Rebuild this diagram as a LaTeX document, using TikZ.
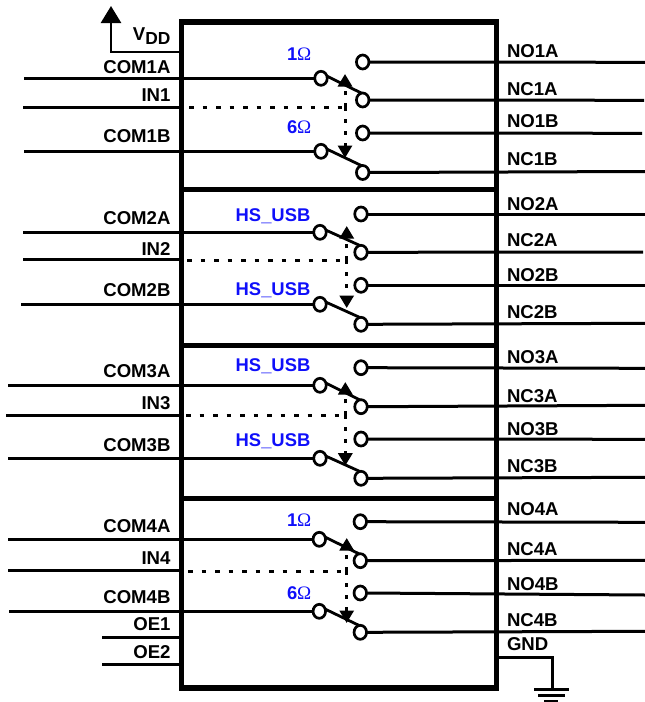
\documentclass[tikz,border=0pt]{standalone}
\usepackage{fontspec}
\setmainfont{Liberation Sans}
\newfontfamily\omegafont{Liberation Serif}
\usetikzlibrary{arrows.meta,shapes.geometric}
\definecolor{lblblue}{RGB}{15,15,250}
\tikzset{
  wire/.style={line width=3pt},
  thinwire/.style={line width=2.6pt},
  bladeline/.style={line width=2.8pt},
  ctl/.style={line width=3pt,dash pattern=on 4.5pt off 9pt},
  ctlv/.style={line width=3pt,dash pattern=on 4pt off 8pt,-{Triangle[length=12.5pt,width=14pt]}},
  term/.style={ellipse,draw,fill=white,line width=2.7pt,minimum width=12.5pt,minimum height=14pt,inner sep=0pt,outer sep=0pt},
  lab/.style={font=\fontsize{18.6}{18.6}\selectfont\bfseries,inner sep=0pt,outer sep=0pt,text=black},
  rlab/.style={lab,anchor=base west},
  llab/.style={lab,anchor=base east},
  blab/.style={font=\fontsize{18.4}{18.4}\selectfont\bfseries,inner sep=0pt,outer sep=0pt,text=lblblue,anchor=base west},
  chipbox/.style={rectangle,draw,line width=5.5pt,minimum width=315pt,minimum height=666pt,inner sep=0pt,outer sep=0pt},
}
% right pin: name, circle x, circle y, end x, end y, label baseline
\newcommand{\RP}[6]{%
  \node[term] (#1) at (#2,#3) {};
  \coordinate (#1e) at (#4,#5);
  \draw[wire] (#1.east) -- (#1e);
  \node[rlab] (#1l) at (507,#6) {#1};}
% left switch pin: name, start x, y, circle x, label baseline
\newcommand{\LP}[5]{%
  \node[term] (#1) at (#4,#3) {};
  \coordinate (#1s) at (#2,#3);
  \draw[wire] (#1s) -- (#1.west);
  \node[llab] (#1l) at (170.5,#5) {#1};}
% left pin ending on the box: name, start x, y, label baseline
\newcommand{\BP}[4]{%
  \coordinate (#1s) at (#2,#3);
  \draw[wire] (#1s) -- (#1s -| chip.west);
  \node[llab] (#1l) at (170.5,#4) {#1};}
% blade from common terminal to NC terminal
\newcommand{\BL}[2]{\draw[bladeline] (#1.20) -- (#2.100);}
% control: IN name, start x, y, junction x, up tip y, down tip y
\newcommand{\CT}[6]{%
  \coordinate (#1a) at (#2,#3);
  \coordinate (#1j) at (#4,#3);
  \coordinate (#1u) at (#4,#5);
  \coordinate (#1d) at (#4,#6);
  \draw[ctl] (#1a) -- (#1j);
  \draw[ctlv] (#1j) -- (#1u);
  \draw[ctlv] (#1j) -- (#1d);}
\newcommand{\ohm}{{\omegafont\fontsize{19}{19}\selectfont\mdseries Ω}}
\begin{document}
\begin{tikzpicture}[x=1pt,y=-1pt]
\useasboundingbox (0,0) rectangle (645,702);
\node[chipbox] (chip) at (339,355) {};
\coordinate (d1l) at (181,189); \coordinate (d1r) at (497,189);
\coordinate (d2l) at (181,345); \coordinate (d2r) at (497,345);
\coordinate (d3l) at (181,498); \coordinate (d3r) at (497,498);
\draw[line width=5pt] (d1l) -- (d1r);
\draw[line width=5pt] (d2l) -- (d2r);
\draw[line width=5pt] (d3l) -- (d3r);
% VDD
\coordinate (vddin) at (chip.west |- 0,52);
\coordinate (vddc) at (111,52);
\coordinate (vddt) at (111,6);
\draw[thinwire,-{Triangle[length=17pt,width=20pt]}] (vddin) -- (vddc) -- (vddt);
\node[llab] (vddl) at (170.5,40) {V\raisebox{-4.5pt}{\fontsize{17.4}{17.4}\selectfont DD}};
% group 1
\LP{COM1A}{24}{78.3}{321}{73}
\BP{IN1}{23}{107.3}{101}
\LP{COM1B}{24}{151.3}{321}{142}
\RP{NO1A}{362.7}{62}{645}{62.3}{57.7}
\RP{NC1A}{362.7}{100}{644}{100.3}{95}
\RP{NO1B}{362.7}{133}{642}{133.3}{127.7}
\RP{NC1B}{362.7}{172.5}{645}{171.5}{165.7}
\BL{COM1A}{NC1A}
\BL{COM1B}{NC1B}
\CT{IN1}{189}{107.3}{345}{74}{158}
\node[blab] (r1a) at (287,60.7) {1\ohm};
\node[blab] (r1b) at (287,133) {6\ohm};
% group 2
\LP{COM2A}{23}{232.3}{320}{224}
\BP{IN2}{23}{259.5}{255}
\LP{COM2B}{21}{304.3}{320}{296.7}
\RP{NO2A}{361}{214}{645}{214}{210}
\RP{NC2A}{361}{252.3}{643}{252}{246.7}
\RP{NO2B}{361}{285.3}{645}{285.3}{281}
\RP{NC2B}{361}{324.3}{645}{323.3}{318.3}
\BL{COM2A}{NC2A}
\BL{COM2B}{NC2B}
\CT{IN2}{187}{260.3}{346.7}{226}{308}
\node[blab] (r2a) at (235.7,221) {HS\_USB};
\node[blab] (r2b) at (235.7,295) {HS\_USB};
% group 3
\LP{COM3A}{8}{385.3}{320}{377.7}
\BP{IN3}{6}{415.3}{409}
\LP{COM3B}{8}{458.3}{320}{451.7}
\RP{NO3A}{361}{367.7}{645}{368.3}{363.3}
\RP{NC3A}{361}{406.7}{645}{405.3}{402.3}
\RP{NO3B}{361}{439}{645}{439.3}{435}
\RP{NC3B}{361}{478.3}{645}{477.3}{472.7}
\BL{COM3A}{NC3A}
\BL{COM3B}{NC3B}
\CT{IN3}{186}{415.3}{345.3}{382}{465.7}
\node[blab] (r3a) at (235.7,371.7) {HS\_USB};
\node[blab] (r3b) at (235.7,446) {HS\_USB};
% group 4
\LP{COM4A}{8}{539.3}{319.3}{532.3}
\BP{IN4}{8}{570.3}{564.3}
\LP{COM4B}{9}{611.3}{319.3}{603.3}
\RP{NO4A}{360.3}{521.7}{645}{522.3}{515.7}
\RP{NC4A}{360.3}{560.7}{645}{560.3}{555.7}
\RP{NO4B}{360.3}{593}{645}{595}{590}
\RP{NC4B}{360.3}{632.3}{645}{631.3}{626.7}
\BL{COM4A}{NC4A}
\BL{COM4B}{NC4B}
\CT{IN4}{188}{571.3}{346.7}{538}{623}
\node[blab] (r4a) at (287,526.7) {1\ohm};
\node[blab] (r4b) at (287,599) {6\ohm};
% OE pins
\BP{OE1}{102}{637.3}{630}
\BP{OE2}{102}{664.3}{658}
% GND
\coordinate (gnds) at (chip.east |- 0,657.3);
\coordinate (gndc) at (552.3,657.3);
\coordinate (gndb) at (552.3,689.5);
\draw[thinwire] (gnds) -- (gndc) -- (gndb);
\node[rlab] (gndl) at (507,650) {GND};
\coordinate (g1a) at (534,689.5); \coordinate (g1b) at (569,689.5);
\coordinate (g2a) at (538,695.5); \coordinate (g2b) at (565,695.5);
\coordinate (g3a) at (544,701.3); \coordinate (g3b) at (558,701.3);
\draw[thinwire] (g1a) -- (g1b);
\draw[thinwire] (g2a) -- (g2b);
\draw[thinwire] (g3a) -- (g3b);
\end{tikzpicture}
\end{document}
